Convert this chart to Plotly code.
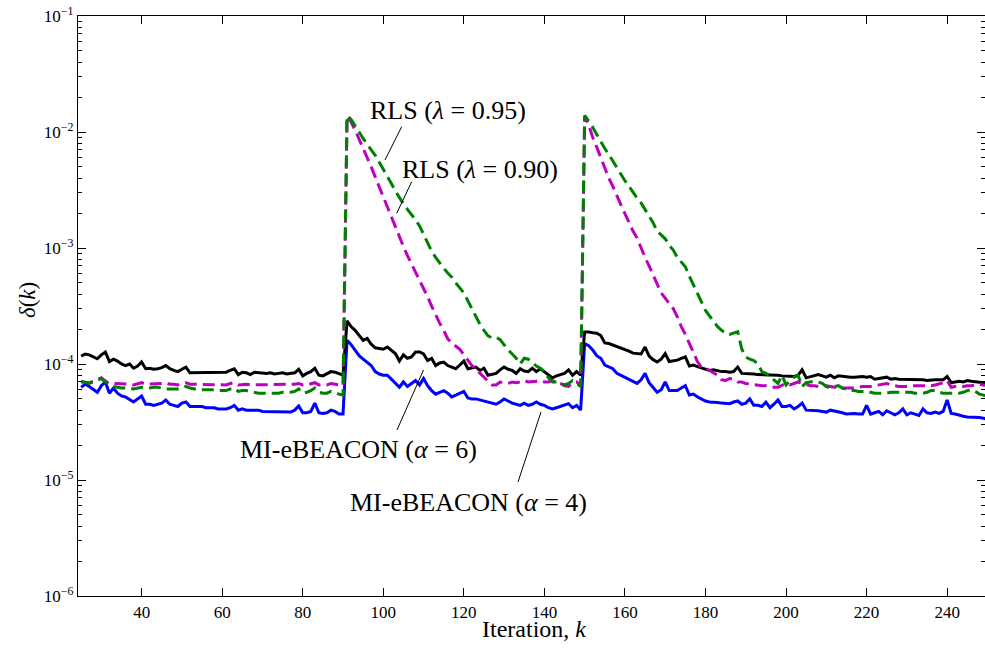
import plotly.graph_objects as go

iterations = list(range(25, 251))

mi_alpha6 = [
    1.17e-4, 1.22e-4, 1.20e-4, 1.15e-4, 1.11e-4, 1.20e-4, 1.27e-4, 1.05e-4, 1.10e-4, 1.06e-4,
    1.00e-4, 9.7e-5, 1.00e-4, 9.2e-5, 9.6e-5, 1.04e-4, 9.1e-5, 9.2e-5, 9.0e-5, 9.1e-5,
    9.3e-5, 9.7e-5, 9.1e-5, 8.8e-5, 8.6e-5, 9.0e-5, 9.4e-5, 8.4e-5, 8.4e-5, 8.5e-5,
    8.4e-5, 8.4e-5, 8.5e-5, 8.4e-5, 8.5e-5, 8.4e-5, 8.5e-5, 8.8e-5, 9.1e-5, 8.1e-5,
    8.5e-5, 8.4e-5, 8.1e-5, 8.5e-5, 8.4e-5, 8.4e-5, 8.3e-5, 8.4e-5, 8.2e-5, 8.3e-5,
    8.4e-5, 8.2e-5, 8.3e-5, 8.4e-5, 9.0e-5, 7.9e-5, 8.3e-5, 8.6e-5, 9.2e-5, 8.0e-5,
    7.9e-5, 8.2e-5, 8.6e-5, 8.5e-5, 8.3e-5, 8.0e-5, 2.35e-4, 2.10e-4, 1.95e-4, 1.78e-4,
    1.60e-4, 1.66e-4, 1.48e-4, 1.38e-4, 1.36e-4, 1.34e-4, 1.40e-4, 1.30e-4, 1.23e-4, 1.06e-4,
    1.20e-4, 1.12e-4, 1.15e-4, 1.27e-4, 1.27e-4, 1.22e-4, 1.07e-4, 1.12e-4, 9.7e-5, 1.02e-4,
    1.04e-4, 9.7e-5, 9.4e-5, 9.1e-5, 9.8e-5, 1.06e-4, 9.1e-5, 9.3e-5, 9.4e-5, 8.8e-5,
    9.2e-5, 8.0e-5, 8.1e-5, 8.3e-5, 8.9e-5, 9.4e-5, 9.0e-5, 8.8e-5, 8.3e-5, 9.1e-5,
    8.7e-5, 8.6e-5, 9.2e-5, 8.6e-5, 9.1e-5, 8.6e-5, 8.0e-5, 7.6e-5, 7.9e-5, 8.1e-5,
    8.3e-5, 8.9e-5, 8.0e-5, 8.6e-5, 8.0e-5, 1.89e-4, 1.89e-4, 1.86e-4, 1.84e-4, 1.76e-4,
    1.52e-4, 1.50e-4, 1.46e-4, 1.40e-4, 1.37e-4, 1.33e-4, 1.29e-4, 1.24e-4, 1.23e-4, 1.22e-4,
    1.40e-4, 1.17e-4, 1.09e-4, 1.04e-4, 1.10e-4, 1.23e-4, 1.05e-4, 1.07e-4, 1.08e-4, 1.12e-4,
    1.15e-4, 9.6e-5, 9.8e-5, 9.5e-5, 9.3e-5, 9.1e-5, 8.8e-5, 8.9e-5, 8.7e-5, 8.6e-5,
    8.6e-5, 8.5e-5, 8.6e-5, 9.4e-5, 8.3e-5, 8.3e-5, 8.2e-5, 8.2e-5, 8.1e-5, 8.1e-5,
    8.0e-5, 8.0e-5, 8.0e-5, 8.0e-5, 7.9e-5, 7.9e-5, 7.9e-5, 7.8e-5, 8.0e-5, 8.9e-5,
    7.6e-5, 7.8e-5, 7.9e-5, 8.1e-5, 7.9e-5, 7.7e-5, 8.0e-5, 7.6e-5, 7.9e-5, 7.8e-5,
    7.8e-5, 7.7e-5, 7.7e-5, 7.8e-5, 7.8e-5, 7.7e-5, 7.8e-5, 7.4e-5, 7.5e-5, 7.6e-5,
    7.7e-5, 7.4e-5, 7.5e-5, 7.4e-5, 7.4e-5, 7.4e-5, 7.3e-5, 7.3e-5, 7.3e-5, 7.3e-5,
    7.2e-5, 7.3e-5, 7.3e-5, 7.3e-5, 7.3e-5, 7.8e-5, 6.9e-5, 7.0e-5, 7.1e-5, 7.0e-5,
    7.2e-5, 7.1e-5, 7.0e-5, 7.0e-5, 6.9e-5, 6.9e-5,
]

mi_alpha4 = [
    6.3e-5, 6.7e-5, 6.4e-5, 6.0e-5, 5.7e-5, 6.5e-5, 7.0e-5, 5.6e-5, 6.2e-5, 5.6e-5,
    5.3e-5, 5.2e-5, 4.9e-5, 4.7e-5, 5.0e-5, 5.3e-5, 4.5e-5, 4.5e-5, 4.4e-5, 4.5e-5,
    4.6e-5, 4.9e-5, 4.5e-5, 4.4e-5, 4.3e-5, 4.6e-5, 4.7e-5, 4.3e-5, 4.3e-5, 4.3e-5,
    4.3e-5, 4.2e-5, 4.2e-5, 4.2e-5, 4.1e-5, 4.1e-5, 4.1e-5, 4.2e-5, 4.4e-5, 4.0e-5,
    4.1e-5, 4.0e-5, 4.0e-5, 4.0e-5, 4.0e-5, 3.9e-5, 3.9e-5, 3.9e-5, 3.9e-5, 3.85e-5,
    3.9e-5, 3.85e-5, 3.85e-5, 4.0e-5, 4.35e-5, 3.8e-5, 3.8e-5, 3.9e-5, 4.6e-5, 3.8e-5,
    3.75e-5, 3.8e-5, 4.0e-5, 3.9e-5, 3.7e-5, 3.7e-5, 1.60e-4, 1.47e-4, 1.30e-4, 1.18e-4,
    1.10e-4, 1.04e-4, 9.7e-5, 8.6e-5, 8.2e-5, 8.0e-5, 8.0e-5, 7.4e-5, 6.8e-5, 6.3e-5,
    7.0e-5, 6.4e-5, 6.8e-5, 7.2e-5, 6.6e-5, 7.5e-5, 6.5e-5, 5.9e-5, 5.5e-5, 5.7e-5,
    5.9e-5, 5.6e-5, 5.2e-5, 5.4e-5, 5.6e-5, 5.8e-5, 5.1e-5, 5.0e-5, 5.0e-5, 4.9e-5,
    4.8e-5, 4.7e-5, 4.6e-5, 4.5e-5, 4.7e-5, 5.0e-5, 4.8e-5, 4.6e-5, 4.5e-5, 4.4e-5,
    4.6e-5, 4.4e-5, 4.5e-5, 4.7e-5, 4.5e-5, 4.4e-5, 4.2e-5, 4.1e-5, 4.2e-5, 4.3e-5,
    4.4e-5, 4.55e-5, 4.2e-5, 4.4e-5, 4.0e-5, 1.50e-4, 1.44e-4, 1.32e-4, 1.18e-4, 1.12e-4,
    9.8e-5, 9.4e-5, 9.1e-5, 8.3e-5, 8.0e-5, 7.6e-5, 7.4e-5, 7.1e-5, 6.8e-5, 7.3e-5,
    8.3e-5, 6.9e-5, 6.2e-5, 5.7e-5, 6.0e-5, 7.0e-5, 5.9e-5, 5.9e-5, 5.9e-5, 6.2e-5,
    6.5e-5, 5.4e-5, 5.5e-5, 5.2e-5, 5.0e-5, 4.8e-5, 4.7e-5, 4.7e-5, 4.65e-5, 4.6e-5,
    4.6e-5, 4.55e-5, 4.7e-5, 4.8e-5, 4.5e-5, 4.6e-5, 5.0e-5, 4.4e-5, 4.4e-5, 4.3e-5,
    4.7e-5, 4.2e-5, 4.5e-5, 4.9e-5, 4.3e-5, 4.3e-5, 4.4e-5, 4.1e-5, 4.3e-5, 4.6e-5,
    4.0e-5, 4.0e-5, 3.95e-5, 3.95e-5, 3.9e-5, 3.85e-5, 4.0e-5, 3.95e-5, 3.9e-5, 3.8e-5,
    3.7e-5, 3.75e-5, 3.75e-5, 3.7e-5, 3.7e-5, 4.4e-5, 3.7e-5, 3.8e-5, 3.9e-5, 3.65e-5,
    3.95e-5, 3.8e-5, 3.65e-5, 3.8e-5, 4.1e-5, 3.65e-5, 3.8e-5, 3.7e-5, 3.6e-5, 4.1e-5,
    3.8e-5, 3.75e-5, 3.85e-5, 3.75e-5, 3.9e-5, 4.9e-5, 3.75e-5, 3.7e-5, 3.6e-5, 3.55e-5,
    3.5e-5, 3.5e-5, 3.5e-5, 3.45e-5, 3.4e-5, 3.35e-5,
]

rls_090 = [
    7.0e-5, 7.0e-5, 6.9e-5, 7.1e-5, 7.3e-5, 7.6e-5, 7.1e-5, 6.8e-5, 6.8e-5, 6.8e-5,
    6.7e-5, 6.7e-5, 6.7e-5, 6.6e-5, 6.8e-5, 6.9e-5, 6.7e-5, 6.7e-5, 6.7e-5, 6.7e-5,
    6.8e-5, 6.9e-5, 6.7e-5, 6.7e-5, 6.6e-5, 6.8e-5, 6.9e-5, 6.7e-5, 6.7e-5, 6.7e-5,
    6.7e-5, 6.7e-5, 6.7e-5, 6.6e-5, 6.6e-5, 6.6e-5, 6.6e-5, 6.8e-5, 6.9e-5, 6.6e-5,
    6.7e-5, 6.7e-5, 6.6e-5, 6.6e-5, 6.6e-5, 6.6e-5, 6.6e-5, 6.6e-5, 6.6e-5, 6.6e-5,
    6.6e-5, 6.6e-5, 6.6e-5, 6.7e-5, 6.8e-5, 6.6e-5, 6.6e-5, 6.7e-5, 6.9e-5, 6.6e-5,
    6.6e-5, 6.6e-5, 6.8e-5, 6.7e-5, 6.6e-5, 6.5e-5, 1.36e-2, 1.22e-2, 1.04e-2, 8.7e-3,
    7.2e-3, 6.0e-3, 5.0e-3, 4.1e-3, 3.35e-3, 2.76e-3, 2.25e-3, 1.85e-3, 1.52e-3, 1.25e-3,
    1.03e-3, 8.6e-4, 7.3e-4, 6.3e-4, 5.3e-4, 4.4e-4, 3.8e-4, 3.15e-4, 2.65e-4, 2.25e-4,
    1.95e-4, 1.65e-4, 1.52e-4, 1.42e-4, 1.34e-4, 1.20e-4, 1.07e-4, 9.7e-5, 9.0e-5, 8.4e-5,
    7.7e-5, 7.1e-5, 6.6e-5, 6.6e-5, 7.0e-5, 6.9e-5, 6.8e-5, 7.0e-5, 6.9e-5, 7.0e-5,
    7.2e-5, 7.0e-5, 7.0e-5, 7.1e-5, 7.2e-5, 7.0e-5, 7.0e-5, 7.2e-5, 7.0e-5, 6.8e-5,
    6.5e-5, 6.4e-5, 6.9e-5, 7.0e-5, 6.5e-5, 1.36e-2, 1.15e-2, 9.0e-3, 7.4e-3, 6.0e-3,
    4.9e-3, 4.0e-3, 3.4e-3, 2.8e-3, 2.35e-3, 1.98e-3, 1.65e-3, 1.40e-3, 1.22e-3, 1.0e-3,
    8.3e-4, 7.0e-4, 5.8e-4, 4.8e-4, 4.1e-4, 3.7e-4, 3.35e-4, 3.0e-4, 2.55e-4, 2.1e-4,
    1.8e-4, 1.5e-4, 1.25e-4, 1.05e-4, 9.4e-5, 9.2e-5, 8.8e-5, 8.4e-5, 8.0e-5, 7.3e-5,
    7.2e-5, 7.5e-5, 7.4e-5, 7.0e-5, 7.0e-5, 6.8e-5, 6.7e-5, 6.7e-5, 6.6e-5, 6.5e-5,
    6.5e-5, 6.4e-5, 6.3e-5, 6.3e-5, 6.5e-5, 6.8e-5, 6.6e-5, 6.8e-5, 7.0e-5, 6.8e-5,
    6.6e-5, 6.5e-5, 6.5e-5, 6.4e-5, 6.5e-5, 6.5e-5, 6.4e-5, 6.3e-5, 6.3e-5, 6.2e-5,
    6.2e-5, 6.2e-5, 6.2e-5, 6.3e-5, 6.4e-5, 6.4e-5, 6.4e-5, 6.5e-5, 6.6e-5, 6.7e-5,
    6.8e-5, 6.6e-5, 6.5e-5, 6.4e-5, 6.4e-5, 6.4e-5, 6.4e-5, 6.5e-5, 6.5e-5, 6.5e-5,
    6.5e-5, 6.5e-5, 6.6e-5, 6.7e-5, 6.9e-5, 7.2e-5, 6.3e-5, 6.4e-5, 6.4e-5, 6.4e-5,
    6.5e-5, 6.5e-5, 6.6e-5, 6.7e-5, 6.6e-5, 6.5e-5,
]

rls_095 = [
    7.1e-5, 6.9e-5, 6.8e-5, 7.0e-5, 7.3e-5, 7.5e-5, 7.0e-5, 6.6e-5, 6.4e-5, 6.3e-5,
    6.2e-5, 6.2e-5, 6.2e-5, 6.1e-5, 6.2e-5, 6.3e-5, 6.2e-5, 6.2e-5, 6.3e-5, 6.3e-5,
    6.2e-5, 6.1e-5, 6.1e-5, 6.1e-5, 6.1e-5, 6.2e-5, 6.4e-5, 6.2e-5, 6.1e-5, 6.0e-5,
    6.0e-5, 6.0e-5, 6.0e-5, 6.0e-5, 5.9e-5, 5.9e-5, 5.9e-5, 6.1e-5, 6.2e-5, 5.8e-5,
    5.9e-5, 5.9e-5, 5.8e-5, 5.7e-5, 5.6e-5, 5.6e-5, 5.6e-5, 5.6e-5, 5.6e-5, 5.6e-5,
    5.7e-5, 5.7e-5, 5.7e-5, 5.8e-5, 6.1e-5, 5.6e-5, 5.7e-5, 5.9e-5, 6.2e-5, 5.7e-5,
    5.6e-5, 5.6e-5, 5.8e-5, 5.7e-5, 5.5e-5, 5.4e-5, 1.39e-2, 1.28e-2, 1.14e-2, 1.0e-2,
    8.8e-3, 7.8e-3, 7.0e-3, 6.3e-3, 5.5e-3, 4.8e-3, 4.2e-3, 3.6e-3, 3.1e-3, 2.7e-3,
    2.4e-3, 2.15e-3, 1.95e-3, 1.75e-3, 1.55e-3, 1.3e-3, 1.1e-3, 9.4e-4, 8.3e-4, 7.4e-4,
    6.7e-4, 6.1e-4, 5.6e-4, 5.0e-4, 4.5e-4, 4.1e-4, 3.5e-4, 3.0e-4, 2.6e-4, 2.2e-4,
    1.95e-4, 1.75e-4, 1.68e-4, 1.70e-4, 1.62e-4, 1.45e-4, 1.32e-4, 1.22e-4, 1.12e-4, 1.0e-4,
    1.12e-4, 1.10e-4, 1.02e-4, 9.6e-5, 9.2e-5, 8.6e-5, 7.6e-5, 7.0e-5, 7.0e-5, 6.8e-5,
    6.6e-5, 6.8e-5, 7.2e-5, 6.8e-5, 6.4e-5, 1.39e-2, 1.25e-2, 1.10e-2, 9.5e-3, 8.2e-3,
    7.2e-3, 6.4e-3, 5.6e-3, 4.9e-3, 4.3e-3, 3.8e-3, 3.4e-3, 3.0e-3, 2.7e-3, 2.45e-3,
    2.15e-3, 1.9e-3, 1.65e-3, 1.4e-3, 1.3e-3, 1.2e-3, 1.05e-3, 9.6e-4, 8.3e-4, 7.5e-4,
    6.9e-4, 5.7e-4, 4.8e-4, 4.0e-4, 3.4e-4, 2.9e-4, 2.6e-4, 2.35e-4, 2.1e-4, 1.95e-4,
    1.85e-4, 1.8e-4, 1.85e-4, 1.9e-4, 1.35e-4, 1.15e-4, 1.1e-4, 1.07e-4, 1.0e-4, 8.6e-5,
    8.3e-5, 8.0e-5, 7.3e-5, 6.8e-5, 8.0e-5, 6.6e-5, 7.2e-5, 7.7e-5, 8.0e-5, 6.4e-5,
    6.9e-5, 7.0e-5, 7.1e-5, 7.0e-5, 6.8e-5, 6.4e-5, 6.2e-5, 6.4e-5, 6.5e-5, 6.2e-5,
    6.0e-5, 5.9e-5, 5.9e-5, 5.8e-5, 5.8e-5, 5.8e-5, 5.7e-5, 5.6e-5, 5.6e-5, 5.6e-5,
    5.6e-5, 5.7e-5, 5.7e-5, 5.7e-5, 5.7e-5, 5.7e-5, 5.7e-5, 5.6e-5, 5.6e-5, 5.6e-5,
    5.7e-5, 5.9e-5, 5.9e-5, 5.7e-5, 5.6e-5, 5.6e-5, 5.6e-5, 5.6e-5, 5.6e-5, 5.7e-5,
    5.9e-5, 6.0e-5, 5.8e-5, 5.5e-5, 5.4e-5, 5.3e-5,
]

x_ticks = [40, 60, 80, 100, 120, 140, 160, 180, 200, 220, 240]
y_ticks = [1e-6, 1e-5, 1e-4, 1e-3, 1e-2, 1e-1]
y_ticktext = ["10<sup>−6</sup>", "10<sup>−5</sup>", "10<sup>−4</sup>",
              "10<sup>−3</sup>", "10<sup>−2</sup>", "10<sup>−1</sup>"]
y_minor = [m * d for d in [1e-6, 1e-5, 1e-4, 1e-3, 1e-2] for m in range(2, 10)]

FONT = "Liberation Serif"

fig = go.Figure()
fig.add_trace(go.Scatter(x=iterations, y=mi_alpha4, mode="lines",
                         line=dict(color="#0000ff", width=3), name="MI-eBEACON (α = 4)"))
fig.add_trace(go.Scatter(x=iterations, y=mi_alpha6, mode="lines",
                         line=dict(color="#000000", width=3), name="MI-eBEACON (α = 6)"))
fig.add_trace(go.Scatter(x=iterations, y=rls_090, mode="lines",
                         line=dict(color="#bf00bf", width=3, dash="12px,6px"), name="RLS (λ = 0.90)"))
fig.add_trace(go.Scatter(x=iterations, y=rls_095, mode="lines",
                         line=dict(color="#008000", width=3, dash="12px,6px"), name="RLS (λ = 0.95)"))

W, H = 985, 652
L, T, R, B = 78, 16, 0, 56
pw, ph = W - L - R, H - T - B

def px(xp):
    return (xp - L) / pw

def py(yp):
    return (H - B - yp) / ph

labels = [
    ("RLS (<i>λ</i> = 0.95)", 448, 110, 26, 0),
    ("RLS (<i>λ</i> = 0.90)", 480, 169, 26, 0),
    ("MI-eBEACON (<i>α</i> = 6)", 358, 449, 26, 0),
    ("MI-eBEACON (<i>α</i> = 4)", 468, 502, 26, 0),
    ("Iteration, <i>k</i>", 534, 629, 24, 0),
    ("<i>δ</i>(<i>k</i>)", 27, 300, 23, -90),
]
for txt, xp, yp, sz, ang in labels:
    fig.add_annotation(x=px(xp), y=py(yp), xref="paper", yref="paper", text=txt,
                       showarrow=False, textangle=ang,
                       font=dict(family=FONT, size=sz, color="black"),
                       xanchor="center", yanchor="middle")

leaders = [
    (401.7, 126.7, 385, 160),
    (411.7, 181.7, 396.7, 213.3),
    (423.5, 370, 397, 430),
    (541, 412, 518, 482),
]
for x0, y0, x1, y1 in leaders:
    fig.add_shape(type="line", xref="paper", yref="paper",
                  x0=px(x0), y0=py(y0), x1=px(x1), y1=py(y1),
                  line=dict(color="black", width=1))

fig.update_layout(
    width=W, height=H,
    margin=dict(l=L, r=R, t=T, b=B),
    paper_bgcolor="white", plot_bgcolor="white",
    showlegend=False,
    font=dict(family=FONT, color="black"),
    xaxis=dict(
        range=[24.2, 249.4], tickvals=x_ticks, ticks="inside", ticklen=8,
        tickcolor="black", showline=True, linecolor="black", linewidth=1.3,
        mirror="ticks", showgrid=False, zeroline=False, automargin=False,
        tickfont=dict(family=FONT, size=17, color="black"),
    ),
    yaxis=dict(
        type="log", range=[-6, -1], tickvals=y_ticks, ticktext=y_ticktext,
        ticks="inside", ticklen=8, tickcolor="black",
        showline=True, linecolor="black", linewidth=1.3, mirror="ticks",
        showgrid=False, zeroline=False, automargin=False, ticklabeloverflow="allow",
        minor=dict(tickvals=y_minor, ticks="inside", ticklen=4, tickcolor="black", showgrid=False),
        tickfont=dict(family=FONT, size=17, color="black"),
    ),
)

fig.write_html(
    "out.html",
    config={"displayModeBar": False},
    post_script=(
        "document.body.style.margin='0px';"
        "document.body.style.overflow='hidden';"
        "document.documentElement.style.overflow='hidden';"
    ),
)
